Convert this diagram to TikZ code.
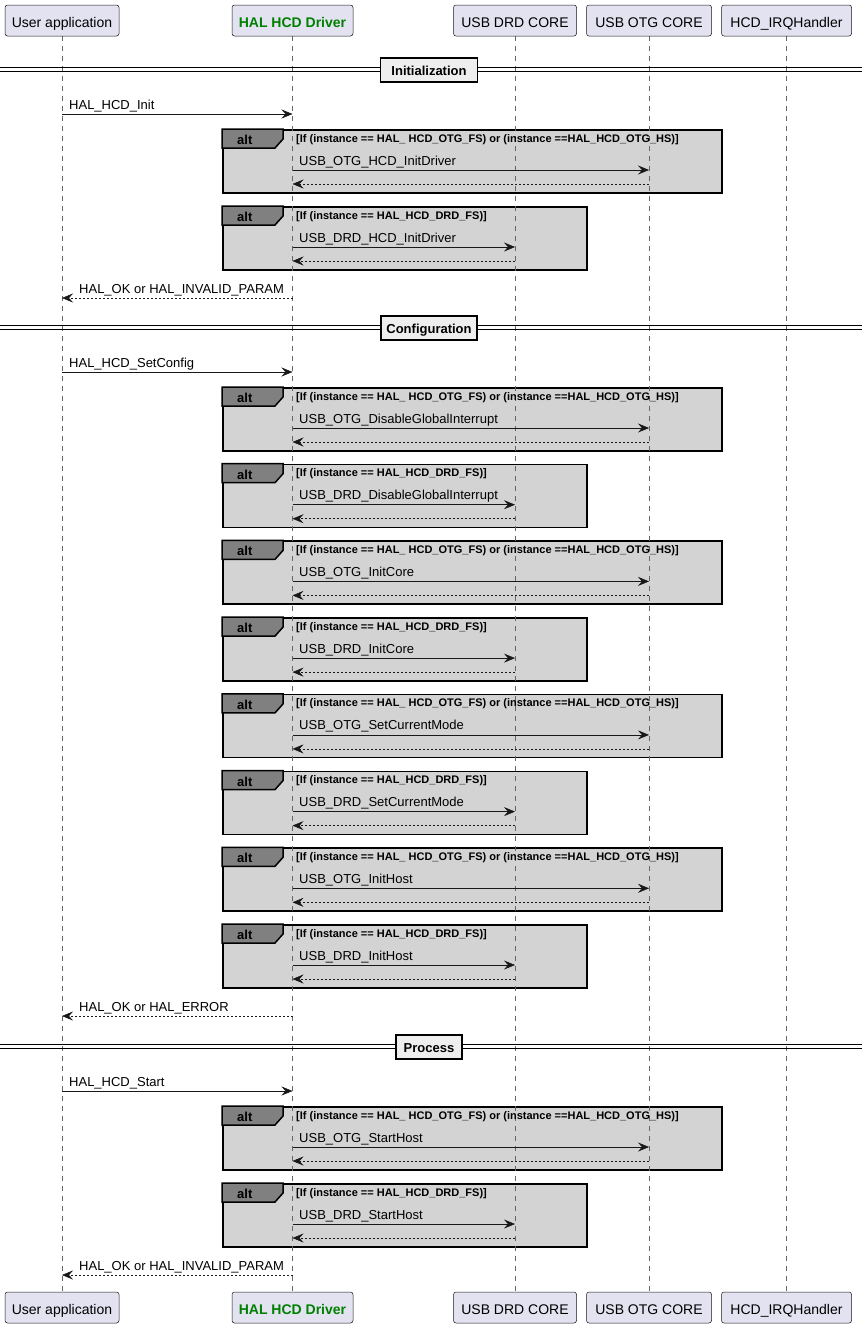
\documentclass[tikz,border=0pt]{standalone}
\usepackage{fontspec}
\setmainfont{Liberation Sans}
\usetikzlibrary{arrows.meta}
\definecolor{partfill}{HTML}{E2E2F0}
\definecolor{lineblk}{HTML}{181818}
\definecolor{altfill}{HTML}{D3D3D3}
\definecolor{tabfill}{HTML}{808080}
\definecolor{divfill}{HTML}{EEEEEE}
\definecolor{halgreen}{HTML}{008000}
\pgfdeclarelayer{bglayer}
\pgfdeclarelayer{altlayer}
\pgfdeclarelayer{lifelayer}
\pgfsetlayers{bglayer,altlayer,lifelayer,main}
\tikzset{
  part/.style={draw=lineblk, fill=partfill, rounded corners=2.5pt, line width=0.5pt,
    minimum height=31pt, inner sep=0pt, text height=17pt, text depth=3pt,
    font=\fontsize{14}{16}\selectfont},
  lifeline/.style={draw=black!60, line width=0.6pt, dash pattern=on 5pt off 5pt},
  msgline/.style={draw=lineblk, line width=0.8pt, -{Stealth[length=11pt,width=9pt,inset=4pt,line width=0.5pt]}},
  retline/.style={msgline, dash pattern=on 2pt off 2pt},
  msglabel/.style={font=\fontsize{13}{15}\selectfont, anchor=base west, inner sep=0pt},
  altbox/.style={draw=black, fill=altfill, line width=1.5pt, anchor=north west, inner sep=0pt, minimum height=63pt},
  alttab/.style={draw=black, fill=tabfill, line width=1.5pt},
  alttext/.style={font=\fontsize{13}{15}\bfseries\selectfont, anchor=base west, inner sep=0pt},
  condtext/.style={font=\fontsize{11}{13}\bfseries\selectfont, anchor=base west, inner sep=0pt},
  divline/.style={draw=black, line width=1pt},
  divbox/.style={draw=black, fill=divfill, line width=1.5pt, minimum height=24pt, inner sep=0pt,
    text height=10pt, text depth=0pt, font=\fontsize{13}{15}\bfseries\selectfont},
}
% \altgroup{name}{top y}{width}{target x}{condition}{message}
\newcommand{\altgroup}[6]{%
  \begin{pgfonlayer}{altlayer}
    \node[altbox, minimum width=#3pt] (#1) at (222,#2) {};
    \draw[alttab] (#1.north west) -- ++(61,0) -- ++(0,10) -- ++(-8,9) -- ++(-53,0) -- cycle;
  \end{pgfonlayer}
  \node[alttext] (#1-alt) at (237,#2+15.5) {alt};
  \node[condtext] (#1-cond) at (296,#2+13) {#5};
  \coordinate (#1-a) at (292.5,#2+41);
  \coordinate (#1-b) at (#4,#2+41);
  \coordinate (#1-c) at (#4,#2+55);
  \coordinate (#1-d) at (292.5,#2+55);
  \draw[msgline] (#1-a) -- (#1-b);
  \node[msglabel] (#1-lab) at (299,#2+36) {#6};
  \draw[retline] (#1-c) -- (#1-d);
}
\newcommand{\otgcond}{[If (instance == HAL\_ HCD\_OTG\_FS) or (instance ==HAL\_HCD\_OTG\_HS)]}
\newcommand{\drdcond}{[If (instance == HAL\_HCD\_DRD\_FS)]}
% \divider{name}{y}{width}{text}
\newcommand{\divider}[4]{%
  \coordinate (#1-l) at (0,#2);
  \coordinate (#1-r) at (862,#2);
  \draw[divline] ([yshift=1.6pt]#1-l) -- ([yshift=1.6pt]#1-r);
  \draw[divline] ([yshift=-1.6pt]#1-l) -- ([yshift=-1.6pt]#1-r);
  \node[divbox, minimum width=#3pt] (#1) at (429,#2+0.5) {#4};
}
\begin{document}
\begin{tikzpicture}[x=1pt,y=-1pt]
\useasboundingbox (0,0) rectangle (862,1328);
\begin{pgfonlayer}{bglayer}
  \fill[white] (0,0) rectangle (862,1328);
\end{pgfonlayer}

% participants
\foreach \nm/\yy in {t/20.5, b/1307.5}{
  \node[part, minimum width=114pt] (uapp\nm) at (62,\yy) {User application};
  \node[part, minimum width=121pt, text=halgreen, font=\fontsize{14}{16}\bfseries\selectfont] (hal\nm) at (292.5,\yy) {HAL HCD Driver};
  \node[part, minimum width=123pt] (drd\nm) at (515,\yy) {USB DRD CORE};
  \node[part, minimum width=125pt] (otg\nm) at (649,\yy) {USB OTG CORE};
  \node[part, minimum width=130pt] (irq\nm) at (786.5,\yy) {HCD\_IRQHandler};
}
\begin{pgfonlayer}{lifelayer}
  \foreach \p in {uapp,hal,drd,otg,irq}{
    \draw[lifeline] (\p t.south) -- (\p b.north);
  }
\end{pgfonlayer}

% Initialization
\divider{dinit}{69.5}{97}{Initialization}
\coordinate (m1a) at (62,114); \coordinate (m1b) at (292.5,114);
\draw[msgline] (m1a) -- (m1b);
\node[msglabel] (m1l) at (69,109) {HAL\_HCD\_Init};
\altgroup{a1}{129}{499}{649}{\otgcond}{USB\_OTG\_HCD\_InitDriver}
\altgroup{a2}{206}{364}{515}{\drdcond}{USB\_DRD\_HCD\_InitDriver}
\coordinate (r1a) at (292.5,298); \coordinate (r1b) at (62,298);
\draw[retline] (r1a) -- (r1b);
\node[msglabel] (r1l) at (79,293) {HAL\_OK or HAL\_INVALID\_PARAM};

% Configuration
\divider{dconf}{327.5}{96}{Configuration}
\coordinate (m2a) at (62,372); \coordinate (m2b) at (292.5,372);
\draw[msgline] (m2a) -- (m2b);
\node[msglabel] (m2l) at (69,367) {HAL\_HCD\_SetConfig};
\altgroup{a3}{387}{499}{649}{\otgcond}{USB\_OTG\_DisableGlobalInterrupt}
\altgroup{a4}{463.7}{364}{515}{\drdcond}{USB\_DRD\_DisableGlobalInterrupt}
\altgroup{a5}{540.4}{499}{649}{\otgcond}{USB\_OTG\_InitCore}
\altgroup{a6}{617.1}{364}{515}{\drdcond}{USB\_DRD\_InitCore}
\altgroup{a7}{693.9}{499}{649}{\otgcond}{USB\_OTG\_SetCurrentMode}
\altgroup{a8}{770.6}{364}{515}{\drdcond}{USB\_DRD\_SetCurrentMode}
\altgroup{a9}{847.3}{499}{649}{\otgcond}{USB\_OTG\_InitHost}
\altgroup{a10}{924}{364}{515}{\drdcond}{USB\_DRD\_InitHost}
\coordinate (r2a) at (292.5,1016); \coordinate (r2b) at (62,1016);
\draw[retline] (r2a) -- (r2b);
\node[msglabel] (r2l) at (79,1011) {HAL\_OK or HAL\_ERROR};

% Process
\divider{dproc}{1046.5}{66}{Process}
\coordinate (m3a) at (62,1091); \coordinate (m3b) at (292.5,1091);
\draw[msgline] (m3a) -- (m3b);
\node[msglabel] (m3l) at (69,1086) {HAL\_HCD\_Start};
\altgroup{a11}{1106}{499}{649}{\otgcond}{USB\_OTG\_StartHost}
\altgroup{a12}{1183}{364}{515}{\drdcond}{USB\_DRD\_StartHost}
\coordinate (r3a) at (292.5,1275); \coordinate (r3b) at (62,1275);
\draw[retline] (r3a) -- (r3b);
\node[msglabel] (r3l) at (79,1270) {HAL\_OK or HAL\_INVALID\_PARAM};
\end{tikzpicture}
\end{document}
